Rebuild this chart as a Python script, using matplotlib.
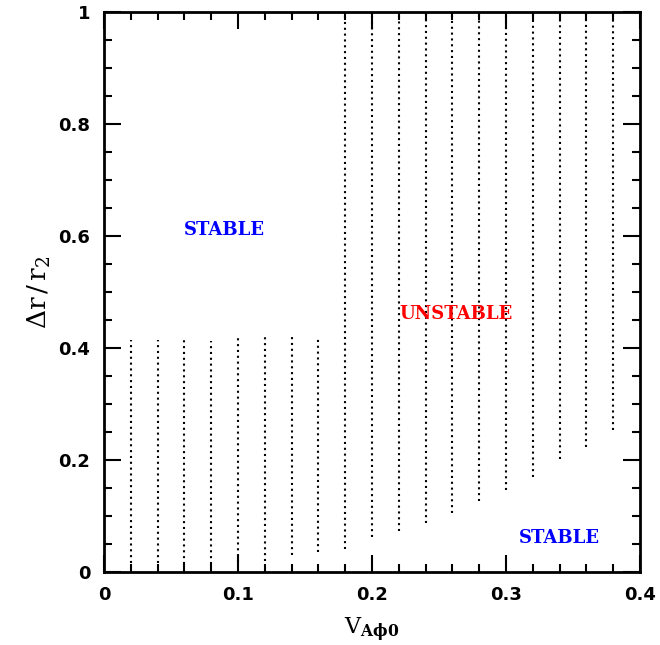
import matplotlib.pyplot as plt
from matplotlib.ticker import MultipleLocator

# grid of V_A(phi0) values scanned, with the unstable range of dr/r2 at each
v_a = [0.02, 0.04, 0.06, 0.08, 0.10, 0.12, 0.14, 0.16, 0.18, 0.20,
       0.22, 0.24, 0.26, 0.28, 0.30, 0.32, 0.34, 0.36, 0.38]
dr_low = [0.016, 0.016, 0.015, 0.015, 0.018, 0.020, 0.030, 0.036, 0.041, 0.062,
          0.074, 0.088, 0.106, 0.126, 0.146, 0.169, 0.201, 0.224, 0.254]
dr_high = [0.414, 0.414, 0.419, 0.413, 0.419, 0.425, 0.425, 0.420, 1.0, 1.0,
           1.0, 1.0, 1.0, 1.0, 1.0, 1.0, 1.0, 1.0, 1.0]

fig = plt.figure(figsize=(6.6, 6.45), dpi=100)
ax = fig.add_axes([0.1576, 0.1132, 0.8121, 0.8682])

for x, lo, hi in zip(v_a, dr_low, dr_high):
    ax.plot([x, x], [lo, hi], color="black", linewidth=1.5,
            linestyle=(0, (1, 1.8)))

label_kw = dict(fontsize=13, family="DejaVu Serif", weight="bold",
                ha="center", va="center")
ax.text(0.0895, 0.61, "STABLE", color="blue", **label_kw)
ax.text(0.263, 0.461, "UNSTABLE", color="red", **label_kw)
ax.text(0.340, 0.061, "STABLE", color="blue", **label_kw)

ax.set_xlim(0, 0.4)
ax.set_ylim(0, 1)
ax.xaxis.set_minor_locator(MultipleLocator(0.02))
ax.yaxis.set_minor_locator(MultipleLocator(0.05))
ax.set_xticks([0, 0.1, 0.2, 0.3, 0.4])
ax.set_xticklabels(["0", "0.1", "0.2", "0.3", "0.4"])
ax.set_yticks([0, 0.2, 0.4, 0.6, 0.8, 1.0])
ax.set_yticklabels(["0", "0.2", "0.4", "0.6", "0.8", "1"])

ax.tick_params(which="both", direction="in", top=True, right=True,
               width=1.5, labelsize=13, pad=10)
ax.tick_params(which="major", length=12)
ax.tick_params(which="minor", length=6)
for lab in ax.get_xticklabels() + ax.get_yticklabels():
    lab.set_family("DejaVu Sans")
    lab.set_weight("bold")
for s in ax.spines.values():
    s.set_linewidth(2)

ax.set_xlabel(r"$\mathrm{V}_{\mathbf{A\phi0}}$", fontsize=16, labelpad=9,
              math_fontfamily="dejavuserif")
ax.set_ylabel(r"$\Delta\mathrm{r}\,/\,\mathrm{r}_2$", fontsize=19, labelpad=4,
              math_fontfamily="dejavuserif")

fig.savefig("out.png", dpi=100)
